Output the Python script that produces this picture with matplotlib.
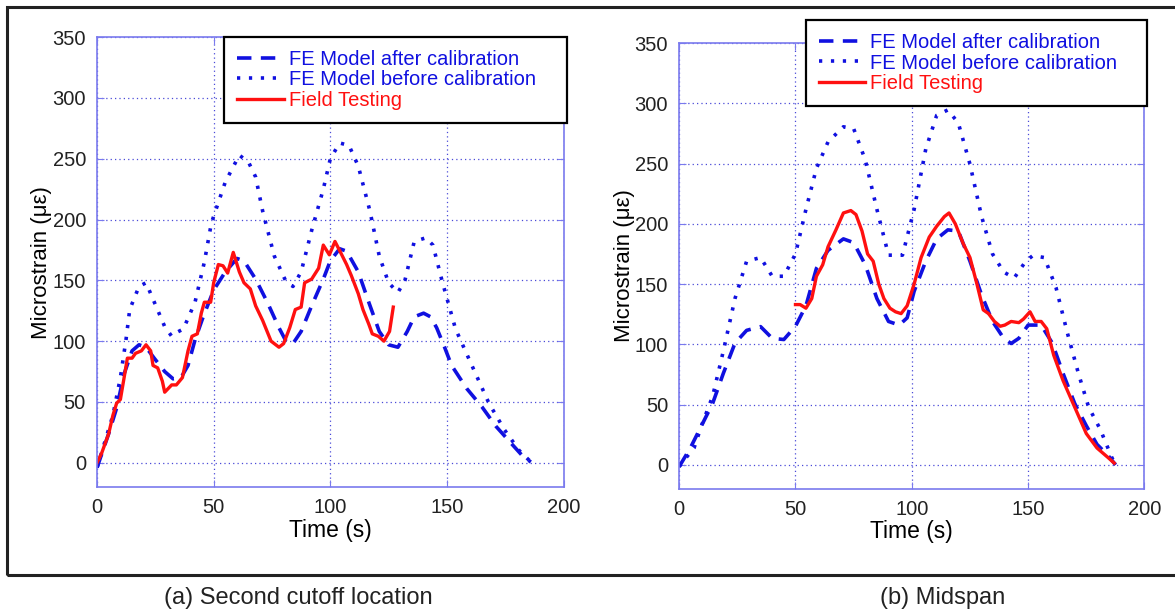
import matplotlib.pyplot as plt
from matplotlib.patches import Rectangle

plt.rcParams['font.family'] = ['Liberation Sans', 'DejaVu Sans']

# --- donnees (a) Second cutoff location ---
a_before_t = [0, 3, 6.8, 10, 12.4, 14, 18, 21, 25, 29, 32, 34, 37, 42, 46, 49, 55, 61, 65, 68, 71, 76, 81, 84,
              87.5, 92, 97, 100, 104, 108, 112, 117, 121, 125, 129, 132, 136, 141, 144, 148, 153.7, 160, 168,
              174.7, 181, 186, 187.6]
a_before_y = [-4, 15, 39, 70, 101, 126, 145, 148, 130, 112, 104, 107, 110, 132, 165, 197, 231, 253, 247, 235,
              207, 170, 149, 145, 157, 191, 225, 250, 263, 261, 244, 207, 170, 148, 140, 150, 182, 185, 179, 149,
              110, 83, 49, 27, 10, 0.6, -1]

a_after_t = [0, 5, 8.4, 11.6, 15, 18, 21, 24.5, 29, 32.6, 36, 39, 42, 45.5, 50, 55, 60, 63, 68, 73, 78, 81,
             84, 87.5, 92, 97, 100, 104, 107, 112, 116.5, 121, 125, 129, 133, 136, 140, 143, 145.6, 149, 152,
             158.5, 165, 171, 178, 182.7, 186]
a_after_y = [-4, 24, 45, 73, 92, 97, 95, 86, 75, 69, 70, 80, 101, 120, 142, 157, 168, 166, 151, 132, 111, 100,
             98, 108, 129, 151, 166, 176, 174, 157, 132, 108, 97, 95, 108, 120, 123, 120, 111, 95, 80, 61, 46,
             30, 15, 5, 0.6]

a_field_t = [0, 2, 5, 6.8, 8.4, 10, 11.6, 13, 15, 16.5, 19, 21, 23, 24, 26, 28, 29, 32, 34, 36.6, 39, 40.7,
             43, 44.7, 46, 48.7, 50, 52, 54, 56, 58.4, 61, 63, 65.7, 68, 71, 74.6, 78, 80, 82.6, 85, 87.5, 89,
             92, 95, 97, 99.6, 102, 104.4, 107, 109, 112, 114, 116.5, 118, 120.6, 123, 125.4, 127]
a_field_y = [0, 8, 24, 39, 49, 52, 70, 86, 86, 90, 92, 97, 92, 80, 78, 67, 58, 64, 64, 70, 92, 104, 106, 123,
             132, 132, 148, 163, 162, 156, 173, 157, 148, 143, 129, 117, 100, 95, 98, 111, 126, 128, 148, 151,
             160, 179, 171, 182, 173, 163, 154, 139, 126, 114, 106, 104, 100, 108, 128]

# --- donnees (b) Midspan ---
b_before_t = [0, 3, 6.4, 9.6, 14.4, 19, 24, 29, 35, 40, 45, 50, 54.5, 59, 64, 70.6, 75, 80, 85, 90, 96, 101,
              106, 110.7, 115.5, 120, 125, 130, 134.7, 139.5, 144, 149, 152, 157, 162, 166.8, 171.6, 176, 181,
              186, 187.6]
b_before_y = [-1.5, 6, 14, 32.5, 57, 94.5, 138, 169, 172, 156.5, 156.5, 175, 212, 246, 268, 280.5, 279, 253,
              212, 174, 174, 212, 262, 290, 294.5, 283.6, 249.5, 206, 175, 160, 155, 169, 173.6, 172, 147, 110,
              76, 48, 29.5, 6, 0]

b_after_t = [0, 4.8, 9.6, 14.4, 19, 24, 29, 35, 40, 45, 50, 54.5, 59, 64, 70.6, 75, 80, 85, 90, 94.6, 98, 101,
             106, 110.7, 115.5, 120, 125, 130, 134.7, 139.5, 142.7, 146, 150, 155.6, 160.4, 165, 170, 175,
             179.6, 184.4, 187.6]
b_after_y = [-1.5, 14, 32.5, 51, 76, 101, 111.6, 114.7, 105, 104, 115, 132, 163, 178, 187.5, 184.4, 166, 138,
             119, 116, 122, 144, 169, 187.5, 195, 194, 169, 141, 119, 105, 100.7, 105, 116, 116, 101, 76, 51,
             32.5, 17, 7.7, 0]

b_field_t = [50, 52, 54.5, 57, 59, 61.7, 64, 67.4, 70.6, 73.8, 76, 78.6, 81, 83.4, 85.8, 88, 90.6, 93, 95.4,
             98, 101, 104, 107.5, 110.7, 114, 116, 118.7, 122, 125, 128, 130.7, 133, 135.5, 138, 140, 142.7,
             146, 148, 150.8, 153, 155.6, 158, 161, 165, 170, 175, 179.6, 184.4, 187]
b_field_y = [133, 133, 130, 138, 156.5, 166, 181, 195, 209, 211, 207.7, 194, 175, 169, 150, 138, 130, 127,
             125.5, 132, 150, 172, 189, 198, 206, 209, 200, 184, 172, 150, 128.6, 125.5, 119, 115, 116, 119,
             118, 121, 127, 119, 119, 113, 91, 70, 48, 26, 14, 6, 1.5]

noms = ['FE Model after calibration', 'FE Model before calibration', 'Field Testing']
ticks_x = [0, 50, 100, 150, 200]
ticks_y = [0, 50, 100, 150, 200, 250, 300, 350]

BLEU = '#1010e0'
ROUGE = '#ff1010'
CADRE = '#7a7aee'

fig = plt.figure(figsize=(11.75, 6.12), dpi=100)

# cadre exterieur
fig.patches.append(Rectangle((7 / 1175, 1 - 575 / 612), 1.2, (575 - 7) / 612, fill=False,
                             edgecolor='#222222', linewidth=2.2, transform=fig.transFigure))

ax_a = fig.add_axes([0.0826, 0.2042, 0.397, 0.735])
ax_b = fig.add_axes([0.578, 0.201, 0.396, 0.7287])


def trace(ax, apres, avant, terrain, leg_box):
    ax.plot(apres[0], apres[1], color=BLEU, linewidth=2.6, linestyle=(0, (4, 2.6)), label=noms[0])
    ax.plot(avant[0], avant[1], color=BLEU, linewidth=2.6, linestyle=(0, (0.9, 2.4)), label=noms[1])
    ax.plot(terrain[0], terrain[1], color=ROUGE, linewidth=2.4, label=noms[2])
    ax.set_xlim(0, 200)
    ax.set_ylim(-20, 350)
    ax.set_xticks(ticks_x)
    ax.set_yticks(ticks_y)
    ax.grid(True, linestyle=(0, (1, 2.5)), color='#4a4ad8', linewidth=0.9)
    for s in ax.spines.values():
        s.set_color(CADRE)
        s.set_linewidth(1.2)
    ax.tick_params(direction='in', length=5, color=CADRE, top=True, right=True,
                   labelsize=14.5, labelcolor='#222222', pad=8)
    ax.set_xlabel('Time (s)', fontsize=16.5, labelpad=1)
    ax.set_ylabel('Microstrain (\u03bc\u03b5)', fontsize=16, labelpad=0)
    leg = ax.legend(loc='upper left', bbox_to_anchor=leg_box, mode='expand', fontsize=14.5,
                    fancybox=False, framealpha=1, edgecolor='black', handlelength=2.3,
                    handletextpad=0.25, labelspacing=0.08, borderaxespad=0, borderpad=0.65)
    leg.get_frame().set_linewidth(1.6)
    for txt, c in zip(leg.get_texts(), [BLEU, BLEU, ROUGE]):
        txt.set_color(c)


trace(ax_a, (a_after_t, a_after_y), (a_before_t, a_before_y), (a_field_t, a_field_y),
      (0.2725, 1.001, 0.734, 0.0))
trace(ax_b, (b_after_t, b_after_y), (b_before_t, b_before_y), (b_field_t, b_field_y),
      (0.272, 1.052, 0.734, 0.0))

fig.text(298 / 1175, 1 - 598 / 612, '(a) Second cutoff location', ha='center', va='center', fontsize=17,
         color='#222222')
fig.text(943 / 1175, 1 - 598 / 612, '(b) Midspan', ha='center', va='center', fontsize=17, color='#222222')

fig.savefig('out.png', dpi=100)
